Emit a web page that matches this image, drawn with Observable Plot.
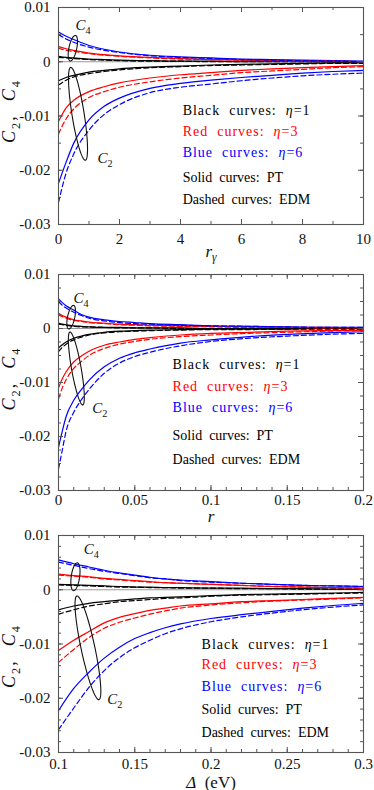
<!DOCTYPE html>
<html><head><meta charset="utf-8">
<script src="https://cdn.jsdelivr.net/npm/d3@7"></script>
<script src="https://cdn.jsdelivr.net/npm/@observablehq/plot@0.6"></script>
<style>
body{margin:0;background:#fff;}
#chart{width:374px;}
#chart svg{display:block;}
</style></head><body><div id="chart"></div>
<script>
// ---------- shared ----------
const etaColors = {1: "#000000", 3: "#ff0000", 6: "#0000ff"};
const yMajor = [-0.03, -0.02, -0.01, 0, 0.01];
const yLabel = "*C*_2,  *C*_4";
const legendLabels = ["Black  curves:  *η*=1", "Red  curves:  *η*=3", "Blue  curves:  *η*=6", "Solid  curves:  PT", "Dashed  curves:  EDM"];
const legendColors = ["#000000", "#ff0000", "#0000ff", "#000000", "#000000"];

// ---------- panel 1 : x = r_gamma ----------
const p1X = [0, 0.25, 0.5, 1, 1.5, 2, 3, 4, 5, 6, 7, 8, 9, 10];
const p1C2_PT_1  = [-0.0035, -0.0029, -0.0025, -0.0019, -0.0016, -0.0013, -0.0010, -0.0008, -0.0006, -0.0005, -0.0004, -0.0003, -0.0002, -0.0002];
const p1C2_EDM_1 = [-0.0043, -0.0034, -0.0028, -0.0022, -0.0018, -0.0015, -0.0011, -0.0009, -0.0007, -0.0006, -0.0005, -0.0004, -0.0003, -0.0003];
const p1C2_PT_3  = [-0.0110, -0.0085, -0.0071, -0.0055, -0.0046, -0.0039, -0.0030, -0.0024, -0.0020, -0.0016, -0.0013, -0.0011, -0.0009, -0.0007];
const p1C2_EDM_3 = [-0.0133, -0.0105, -0.0087, -0.0066, -0.0055, -0.0047, -0.0037, -0.0030, -0.0025, -0.0020, -0.0017, -0.0014, -0.0011, -0.0009];
const p1C2_PT_6  = [-0.0224, -0.0185, -0.0150, -0.0107, -0.0082, -0.0067, -0.0049, -0.0040, -0.0034, -0.0029, -0.0025, -0.0021, -0.0018, -0.0016];
const p1C2_EDM_6 = [-0.0259, -0.0205, -0.0170, -0.0126, -0.0097, -0.0079, -0.0057, -0.0047, -0.0041, -0.0035, -0.0030, -0.0026, -0.0023, -0.0021];
const p1C4_PT_1  = [0.0010, 0.0008, 0.0007, 0.0005, 0.0004, 0.0003, 0.0002, 0.0001, 0.0001, 0.0000, 0.0000, 0.0000, 0.0000, 0.0000];
const p1C4_EDM_1 = [0.0008, 0.0007, 0.0006, 0.0004, 0.0003, 0.0002, 0.0001, 0.0001, 0.0000, 0.0000, 0.0000, 0.0000, 0.0000, 0.0000];
const p1C4_PT_3  = [0.0028, 0.0024, 0.0021, 0.0016, 0.0013, 0.0011, 0.0008, 0.0006, 0.0004, 0.0003, 0.0002, 0.0001, 0.0001, 0.0000];
const p1C4_EDM_3 = [0.0025, 0.0021, 0.0019, 0.0015, 0.0012, 0.0010, 0.0007, 0.0005, 0.0004, 0.0003, 0.0002, 0.0001, 0.0001, 0.0000];
const p1C4_PT_6  = [0.0055, 0.0047, 0.0041, 0.0030, 0.0023, 0.0018, 0.0012, 0.0009, 0.0007, 0.0005, 0.0004, 0.0003, 0.0002, 0.0001];
const p1C4_EDM_6 = [0.0050, 0.0042, 0.0036, 0.0027, 0.0021, 0.0017, 0.0011, 0.0008, 0.0006, 0.0004, 0.0003, 0.0002, 0.0001, 0.0000];
const p1XTicks = [0, 2, 4, 6, 8, 10];

// ---------- panel 2 : x = r ----------
const p2X = [0, 0.0025, 0.005, 0.01, 0.015, 0.02, 0.03, 0.04, 0.05, 0.06, 0.08, 0.1, 0.125, 0.15, 0.175, 0.2];
const p2C2_PT_1  = [-0.0036, -0.0030, -0.0025, -0.0018, -0.0014, -0.0011, -0.0007, -0.0005, -0.0004, -0.0003, -0.0002, -0.0001, -0.0001, -0.0001, 0.0000, 0.0000];
const p2C2_EDM_1 = [-0.0043, -0.0035, -0.0029, -0.0021, -0.0016, -0.0012, -0.0008, -0.0006, -0.0005, -0.0004, -0.0003, -0.0002, -0.0002, -0.0001, -0.0001, -0.0001];
const p2C2_PT_3  = [-0.0110, -0.0093, -0.0080, -0.0062, -0.0051, -0.0042, -0.0031, -0.0025, -0.0020, -0.0017, -0.0012, -0.0009, -0.0007, -0.0005, -0.0004, -0.0003];
const p2C2_EDM_3 = [-0.0130, -0.0110, -0.0095, -0.0074, -0.0061, -0.0050, -0.0037, -0.0029, -0.0024, -0.0020, -0.0015, -0.0012, -0.0009, -0.0007, -0.0005, -0.0004];
const p2C2_PT_6  = [-0.0220, -0.0190, -0.0163, -0.0133, -0.0113, -0.0096, -0.0071, -0.0055, -0.0045, -0.0038, -0.0027, -0.0021, -0.0015, -0.0011, -0.0008, -0.0006];
const p2C2_EDM_6 = [-0.0260, -0.0225, -0.0190, -0.0155, -0.0132, -0.0113, -0.0083, -0.0064, -0.0052, -0.0044, -0.0032, -0.0024, -0.0018, -0.0014, -0.0011, -0.0009];
const p2C4_PT_1  = [0.0010, 0.0008, 0.0007, 0.0005, 0.0004, 0.0003, 0.0002, 0.0002, 0.0001, 0.0001, 0.0001, 0.0000, 0.0000, 0.0000, 0.0000, 0.0000];
const p2C4_EDM_1 = [0.0008, 0.0007, 0.0006, 0.0004, 0.0003, 0.0003, 0.0002, 0.0001, 0.0001, 0.0001, 0.0000, 0.0000, 0.0000, 0.0000, 0.0000, 0.0000];
const p2C4_PT_3  = [0.0028, 0.0024, 0.0021, 0.0016, 0.0014, 0.0012, 0.0010, 0.0008, 0.0007, 0.0006, 0.0005, 0.0004, 0.0003, 0.0002, 0.0002, 0.0001];
const p2C4_EDM_3 = [0.0025, 0.0022, 0.0019, 0.0015, 0.0013, 0.0011, 0.0009, 0.0007, 0.0006, 0.0005, 0.0004, 0.0003, 0.0002, 0.0002, 0.0001, 0.0001];
const p2C4_PT_6  = [0.0055, 0.0048, 0.0042, 0.0034, 0.0026, 0.0021, 0.0016, 0.0013, 0.0011, 0.0009, 0.0007, 0.0005, 0.0004, 0.0003, 0.0002, 0.0002];
const p2C4_EDM_6 = [0.0050, 0.0043, 0.0038, 0.0030, 0.0024, 0.0019, 0.0014, 0.0011, 0.0009, 0.0008, 0.0006, 0.0005, 0.0004, 0.0003, 0.0002, 0.0002];
const p2XTicks = [0, 0.05, 0.1, 0.15, 0.2];

// ---------- panel 3 : x = Delta (eV) ----------
const p3X = [0.1, 0.11, 0.12, 0.13, 0.14, 0.15, 0.16, 0.17, 0.18, 0.2, 0.22, 0.24, 0.26, 0.28, 0.3];
const p3C2_PT_1  = [-0.0037, -0.0030, -0.0025, -0.0022, -0.0019, -0.0017, -0.0015, -0.0014, -0.0013, -0.0011, -0.0009, -0.0008, -0.0007, -0.0006, -0.0005];
const p3C2_EDM_1 = [-0.0045, -0.0037, -0.0030, -0.0026, -0.0022, -0.0020, -0.0018, -0.0016, -0.0015, -0.0012, -0.0010, -0.0009, -0.0008, -0.0007, -0.0006];
const p3C2_PT_3  = [-0.0112, -0.0093, -0.0077, -0.0061, -0.0051, -0.0044, -0.0038, -0.0034, -0.0030, -0.0026, -0.0022, -0.0020, -0.0018, -0.0016, -0.0014];
const p3C2_EDM_3 = [-0.0134, -0.0110, -0.0088, -0.0071, -0.0060, -0.0052, -0.0045, -0.0039, -0.0034, -0.0028, -0.0024, -0.0021, -0.0019, -0.0017, -0.0015];
const p3C2_PT_6  = [-0.0223, -0.0182, -0.0152, -0.0126, -0.0106, -0.0090, -0.0079, -0.0070, -0.0063, -0.0053, -0.0046, -0.0040, -0.0034, -0.0029, -0.0025];
const p3C2_EDM_6 = [-0.0258, -0.0218, -0.0180, -0.0149, -0.0125, -0.0107, -0.0093, -0.0081, -0.0072, -0.0059, -0.0050, -0.0043, -0.0037, -0.0032, -0.0028];
const p3C4_PT_1  = [0.0010, 0.0009, 0.0008, 0.0007, 0.0006, 0.0005, 0.0005, 0.0004, 0.0004, 0.0003, 0.0003, 0.0002, 0.0002, 0.0001, 0.0001];
const p3C4_EDM_1 = [0.0009, 0.0008, 0.0007, 0.0006, 0.0005, 0.0005, 0.0004, 0.0004, 0.0003, 0.0003, 0.0002, 0.0002, 0.0001, 0.0001, 0.0001];
const p3C4_PT_3  = [0.0029, 0.0026, 0.0024, 0.0021, 0.0019, 0.0017, 0.0015, 0.0013, 0.0012, 0.0010, 0.0008, 0.0006, 0.0005, 0.0004, 0.0003];
const p3C4_EDM_3 = [0.0027, 0.0025, 0.0023, 0.0020, 0.0018, 0.0016, 0.0014, 0.0013, 0.0012, 0.0010, 0.0008, 0.0006, 0.0005, 0.0004, 0.0003];
const p3C4_PT_6  = [0.0055, 0.0048, 0.0042, 0.0036, 0.0031, 0.0027, 0.0023, 0.0020, 0.0018, 0.0015, 0.0012, 0.0010, 0.0008, 0.0007, 0.0006];
const p3C4_EDM_6 = [0.0051, 0.0045, 0.0039, 0.0034, 0.0030, 0.0026, 0.0022, 0.0020, 0.0017, 0.0014, 0.0012, 0.0010, 0.0008, 0.0007, 0.0006];
const p3XTicks = [0.1, 0.15, 0.2, 0.25, 0.3];

// ---------- helpers ----------
function tidy(xs, list) {
  const out = [];
  for (const [coef, method, eta, ys] of list)
    ys.forEach((y, i) => out.push({x: xs[i], y, key: coef + method + eta, method, color: etaColors[eta]}));
  return out;
}
function ellipseSymbol(aspect) {
  return {draw(ctx, size) {
    const R = Math.sqrt(size / Math.PI), n = 80;
    for (let i = 0; i <= n; i++) {
      const a = 2 * Math.PI * i / n, px = R * aspect * Math.cos(a), py = R * Math.sin(a);
      if (i) ctx.lineTo(px, py); else ctx.moveTo(px, py);
    }
    ctx.closePath();
  }};
}
const fmt = d => d === 0 ? "0" : String(d);

function rich(svg) {
  for (const t of svg.querySelectorAll("text")) {
    const s = t.textContent;
    if (!/[*_]/.test(s)) continue;
    const segs = [];
    let italic = false, buf = "";
    const flush = () => { if (buf) segs.push({text: buf, italic, sub: false}); buf = ""; };
    for (let i = 0; i < s.length; i++) {
      const c = s[i];
      if (c === "*") { flush(); italic = !italic; }
      else if (c === "_") { flush(); segs.push({text: s[i + 1], italic, sub: true}); i++; }
      else buf += c;
    }
    flush();
    while (t.firstChild) t.removeChild(t.firstChild);
    t.style.whiteSpace = "pre";
    if (s.includes("curves")) t.style.letterSpacing = "1px";
    if (s === yLabel) t.style.letterSpacing = "2px";
    let prevSub = false;
    for (const sg of segs) {
      const ts = document.createElementNS("http://www.w3.org/2000/svg", "tspan");
      ts.textContent = sg.text;
      if (sg.italic) ts.setAttribute("font-style", "italic");
      if (sg.sub) { ts.setAttribute("font-size", "0.68em"); ts.setAttribute("dy", "0.4em"); }
      else if (prevSub) ts.setAttribute("dy", "-0.27em");
      prevSub = sg.sub;
      t.appendChild(ts);
    }
  }
}

function panel(cfg) {
  const W = 374, ML = 58, MR = 11;
  const innerW = W - ML - MR, innerH = cfg.height - cfg.mt - cfg.mb;
  const pt = cfg.rows.filter(d => d.method === "PT");
  const edm = cfg.rows.filter(d => d.method === "EDM");
  const [x0, x1] = cfg.xDomain;
  const xMinor = d3.range(0, Math.round((x1 - x0) / cfg.xMinorStep) + 1).map(i => x0 + i * cfg.xMinorStep);
  const yMinor = d3.range(0, Math.round(0.04 / cfg.yMinorStep) + 1).map(i => -0.03 + i * cfg.yMinorStep);
  const tickStyle = {stroke: "#555", strokeWidth: 1};
  const svg = Plot.plot({
    width: W, height: cfg.height,
    marginLeft: ML, marginRight: MR, marginTop: cfg.mt, marginBottom: cfg.mb,
    x: {domain: cfg.xDomain, label: null},
    y: {domain: [-0.03, 0.01], label: null},
    color: {type: "identity"},
    style: {fontFamily: "'Liberation Serif', 'Times New Roman', serif", fontSize: "14px", color: "#111", background: "#fff", overflow: "visible"},
    marks: [
      Plot.ruleY([0], {stroke: "#9a9a9a", strokeWidth: 1}),
      Plot.line(pt, {x: "x", y: "y", z: "key", stroke: "color", curve: "monotone-x", strokeWidth: 1.2}),
      Plot.line(edm, {x: "x", y: "y", z: "key", stroke: "color", curve: "monotone-x", strokeWidth: 1.2, strokeDasharray: "5,3"}),
      Plot.tickX(xMinor, {x: d => d, insetTop: innerH - 3, ...tickStyle}),
      Plot.tickX(xMinor, {x: d => d, insetBottom: innerH - 3, ...tickStyle}),
      Plot.tickX(cfg.xTicks, {x: d => d, insetTop: innerH - 5, ...tickStyle}),
      Plot.tickX(cfg.xTicks, {x: d => d, insetBottom: innerH - 5, ...tickStyle}),
      Plot.tickY(yMinor, {y: d => d, insetRight: innerW - 3, ...tickStyle}),
      Plot.tickY(yMinor, {y: d => d, insetLeft: innerW - 3, ...tickStyle}),
      Plot.tickY(yMajor, {y: d => d, insetRight: innerW - 5, ...tickStyle}),
      Plot.tickY(yMajor, {y: d => d, insetLeft: innerW - 5, ...tickStyle}),
      Plot.frame({stroke: "#555", strokeWidth: 1.1}),
      Plot.axisX(cfg.xTicks, {tickSize: 0, tickPadding: cfg.xPad, tickFormat: fmt, fill: "#111", fontSize: 15, label: null}),
      Plot.axisY(yMajor, {tickSize: 0, tickPadding: 8, tickFormat: fmt, fill: "#111", fontSize: 15, label: null}),
      Plot.text([cfg.xLabel], {frameAnchor: "bottom", text: d => d, dy: cfg.xLabelDy, textAnchor: "middle", lineAnchor: "bottom", fontSize: 17, fill: "#111"}),
      Plot.text([yLabel], {frameAnchor: "left", text: d => d, rotate: -90, dx: -49, dy: cfg.yLabelDy, textAnchor: "middle", lineAnchor: "middle", fontSize: 18, fill: "#111"}),
      Plot.text(legendLabels, {x: () => cfg.legendX, y: (d, i) => cfg.legendY[i], text: d => d, fill: (d, i) => legendColors[i], textAnchor: "start", lineAnchor: "bottom", fontSize: 14}),
      Plot.dot([cfg.c4Ell], {x: "x", y: "y", r: cfg.c4Ell.r, rotate: cfg.c4Ell.rot, symbol: ellipseSymbol(0.3), stroke: "#111", fill: "none", strokeWidth: 1.1}),
      Plot.dot([cfg.c2Ell], {x: "x", y: "y", r: cfg.c2Ell.r, rotate: cfg.c2Ell.rot, symbol: ellipseSymbol(0.13), stroke: "#111", fill: "none", strokeWidth: 1.1}),
      Plot.text([cfg.c4Lab], {x: "x", y: "y", text: () => "*C*_4", textAnchor: "start", lineAnchor: "bottom", fontSize: 15, fill: "#111"}),
      Plot.text([cfg.c2Lab], {x: "x", y: "y", text: () => "*C*_2", textAnchor: "start", lineAnchor: "bottom", fontSize: 15, fill: "#111"})
    ]
  });
  rich(svg);
  return svg;
}

const panels = [
  {
    height: 262, mt: 7, mb: 38, xDomain: [0, 10], xTicks: p1XTicks, xMinorStep: 1, yMinorStep: 0.005,
    xPad: 9, xLabel: "*r_γ*", xLabelDy: 32, yLabelDy: -5,
    legendX: 4.07, legendY: [-0.0099, -0.0137, -0.0176, -0.0222, -0.0262],
    c4Ell: {x: 0.47, y: 0.0025, r: 13, rot: 12}, c2Ell: {x: 0.64, y: -0.0096, r: 47, rot: -9},
    c4Lab: {x: 0.56, y: 0.0059}, c2Lab: {x: 1.28, y: -0.0187},
    rows: tidy(p1X, [["C2","PT",1,p1C2_PT_1],["C2","EDM",1,p1C2_EDM_1],["C2","PT",3,p1C2_PT_3],["C2","EDM",3,p1C2_EDM_3],["C2","PT",6,p1C2_PT_6],["C2","EDM",6,p1C2_EDM_6],
                     ["C4","PT",1,p1C4_PT_1],["C4","EDM",1,p1C4_EDM_1],["C4","PT",3,p1C4_PT_3],["C4","EDM",3,p1C4_EDM_3],["C4","PT",6,p1C4_PT_6],["C4","EDM",6,p1C4_EDM_6]])
  },
  {
    height: 260, mt: 12, mb: 32, xDomain: [0, 0.2], xTicks: p2XTicks, xMinorStep: 0.01, yMinorStep: 0.0025,
    xPad: 4, xLabel: "*r*", xLabelDy: 31, yLabelDy: -4,
    legendX: 0.0748, legendY: [-0.0075, -0.0115, -0.0155, -0.0207, -0.0251],
    c4Ell: {x: 0.0083, y: 0.0021, r: 12, rot: 12}, c2Ell: {x: 0.0117, y: -0.0074, r: 37, rot: -10},
    c4Lab: {x: 0.0098, y: 0.0048}, c2Lab: {x: 0.0221, y: -0.0157},
    rows: tidy(p2X, [["C2","PT",1,p2C2_PT_1],["C2","EDM",1,p2C2_EDM_1],["C2","PT",3,p2C2_PT_3],["C2","EDM",3,p2C2_EDM_3],["C2","PT",6,p2C2_PT_6],["C2","EDM",6,p2C2_EDM_6],
                     ["C4","PT",1,p2C4_PT_1],["C4","EDM",1,p2C4_EDM_1],["C4","PT",3,p2C4_PT_3],["C4","EDM",3,p2C4_EDM_3],["C4","PT",6,p2C4_PT_6],["C4","EDM",6,p2C4_EDM_6]])
  },
  {
    height: 268, mt: 13, mb: 38, xDomain: [0.1, 0.3], xTicks: p3XTicks, xMinorStep: 0.01, yMinorStep: 0.002,
    xPad: 6, xLabel: "*Δ*  (eV)", xLabelDy: 35, yLabelDy: 12,
    legendX: 0.1938, legendY: [-0.0110, -0.0147, -0.0186, -0.0229, -0.0272],
    c4Ell: {x: 0.1111, y: 0.0024, r: 14, rot: 8}, c2Ell: {x: 0.1193, y: -0.0107, r: 53, rot: -12},
    c4Lab: {x: 0.1166, y: 0.0066}, c2Lab: {x: 0.1319, y: -0.0210},
    rows: tidy(p3X, [["C2","PT",1,p3C2_PT_1],["C2","EDM",1,p3C2_EDM_1],["C2","PT",3,p3C2_PT_3],["C2","EDM",3,p3C2_EDM_3],["C2","PT",6,p3C2_PT_6],["C2","EDM",6,p3C2_EDM_6],
                     ["C4","PT",1,p3C4_PT_1],["C4","EDM",1,p3C4_EDM_1],["C4","PT",3,p3C4_PT_3],["C4","EDM",3,p3C4_EDM_3],["C4","PT",6,p3C4_PT_6],["C4","EDM",6,p3C4_EDM_6]])
  }
];

const chart = document.getElementById("chart");
for (const cfg of panels) chart.appendChild(panel(cfg));
</script></body></html>
